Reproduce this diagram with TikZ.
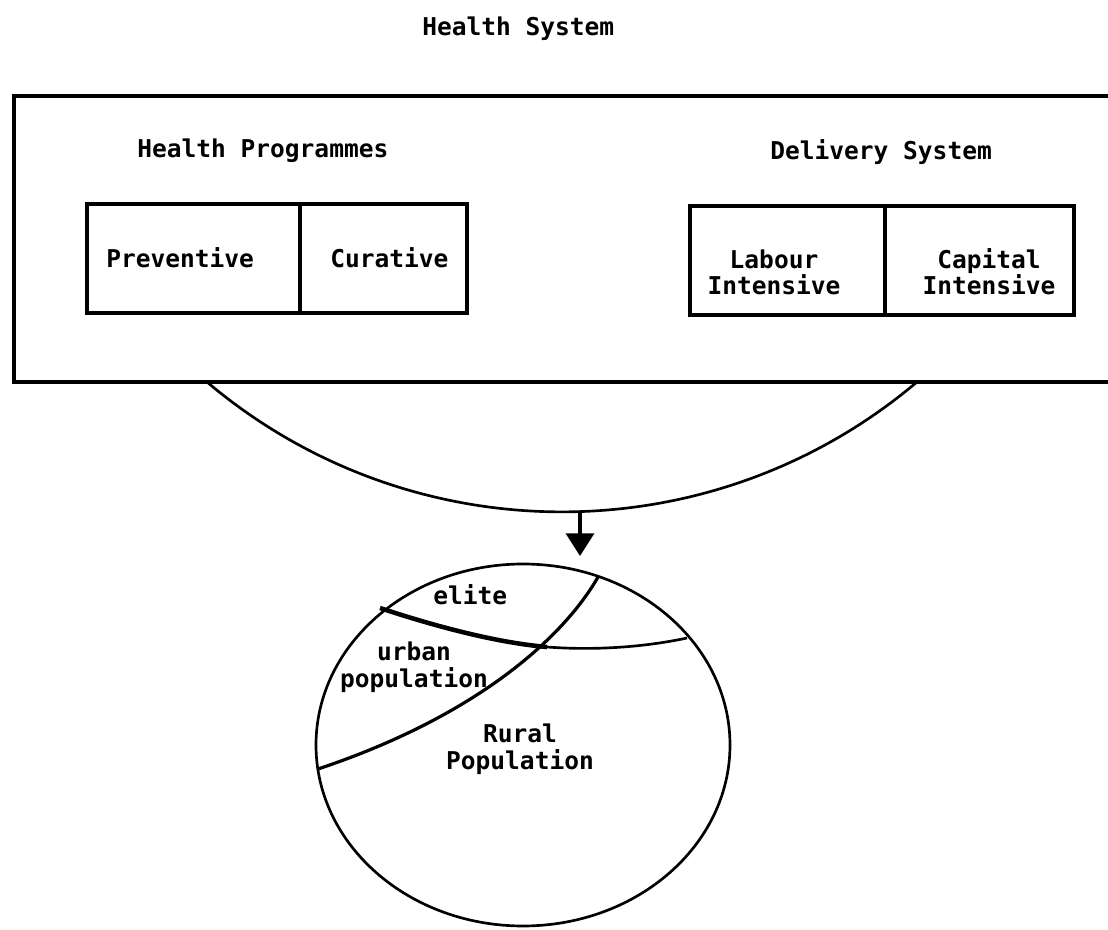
\documentclass[tikz,border=0pt]{standalone}
\usepackage{fontspec}
\newfontfamily\typer{DejaVu Sans Mono}
\usetikzlibrary{arrows.meta,shapes.geometric}
\begin{document}
\begin{tikzpicture}[x=0.75pt,y=-0.75pt,
  txt/.style={font=\typer\bfseries\fontsize{18.4pt}{20pt}\selectfont, inner sep=0pt},
  frame/.style={draw, line width=2.6pt, inner sep=0pt},
  rule/.style={line width=2.6pt},
  rim/.style={line width=2pt},
  boldrim/.style={line width=3.4pt},
  ptr/.style={-{Triangle[width=21pt,length=17pt]}, line width=2.6pt}]
\useasboundingbox (0,0) rectangle (1108,930);

% title
\node[txt, anchor=base west] (title) at (422,36) {Health System};

% outer frame, open on the right
\draw[rule] (1108,96) -- (14,96) -- (14,382) -- (1108,382);

% programmes
\node[txt, anchor=base west] (hp) at (137,158) {Health Programmes};
\node[frame, minimum width=285pt, minimum height=81.75pt] (progbox) at (277,258.5) {};
\draw[rule] (progbox.north -| 300,0) -- (progbox.south -| 300,0);
\node[txt, anchor=base west] (prev) at (106,268) {Preventive};
\node[txt, anchor=base west] (cur) at (330,268) {Curative};

% delivery
\node[txt, anchor=base west] (ds) at (770,160) {Delivery System};
\node[frame, minimum width=288pt, minimum height=81.75pt] (delbox) at (882,260.5) {};
\draw[rule] (delbox.north -| 885,0) -- (delbox.south -| 885,0);
\node[txt, anchor=base, align=center] (lab) at (774,295) {Labour\\Intensive};
\node[txt, anchor=base, align=center] (cap) at (989,295) {Capital\\Intensive};

% funnel arc under the frame
\draw[rim] (207,382) arc[start angle=130.2, end angle=49.8, radius=550];
\coordinate (arcbot) at (580,512);

% population
\node[draw, ellipse, rim, minimum width=310.5pt, minimum height=271.5pt, inner sep=0pt] (pop) at (523,745) {};
\draw[ptr, shorten >=5pt] (arcbot) -- (arcbot |- pop.north);

% divisions inside the population
\draw[line width=2.4pt] (598,577) .. controls (565,635) and (480,715) .. (318,769);
\draw[boldrim] (380,608) .. controls (440,628) and (500,643) .. (547,647);
\draw[rim] (547,647) .. controls (600,651) and (650,646) .. (687,638);

\node[txt, anchor=base west] (elite) at (433,605) {elite};
\node[txt, anchor=base, align=center] (urban) at (414,687) {urban\\population};
\node[txt, anchor=base, align=center] (rural) at (520,769) {Rural\\Population};
\end{tikzpicture}
\end{document}
